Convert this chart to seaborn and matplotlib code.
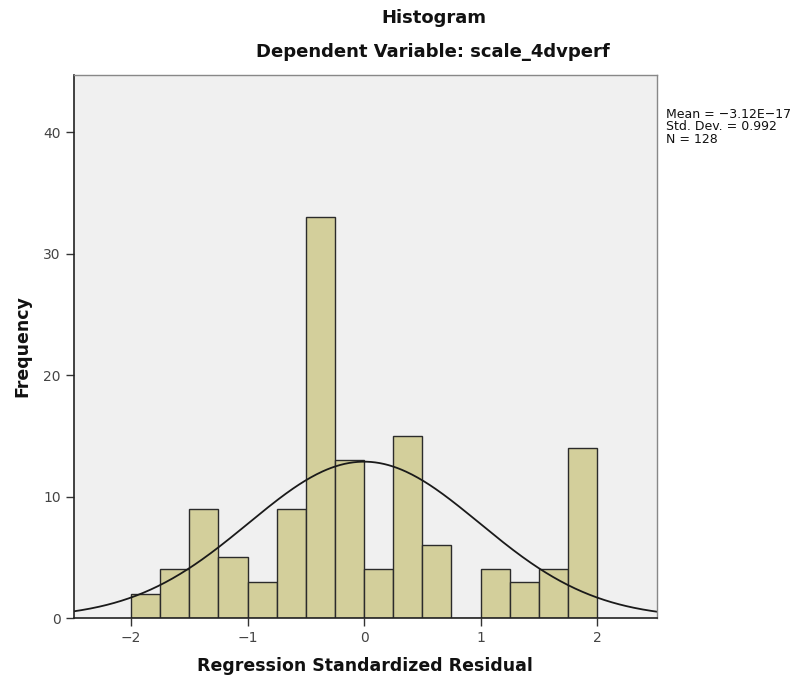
import numpy as np
import pandas as pd
import matplotlib
matplotlib.use("Agg")
import matplotlib.pyplot as plt
import seaborn as sns

# Data
bin_edges = [-2.0, -1.75, -1.5, -1.25, -1.0, -0.75, -0.5, -0.25, 0.0,
             0.25, 0.5, 0.75, 1.0, 1.25, 1.5, 1.75, 2.0]
counts = [2, 4, 9, 5, 3, 9, 33, 13, 4, 15, 6, 0, 4, 3, 4, 14]
mean_val = -3.12e-17
std_val = 0.992
n_val = 128
x_ticks = [-2, -1, 0, 1, 2]
y_ticks = [0, 10, 20, 30, 40]

sns.set_theme(style="white")
plt.rcParams['font.family'] = ['DejaVu Sans']

centers = [(a + b) / 2 for a, b in zip(bin_edges[:-1], bin_edges[1:])]
df = pd.DataFrame({"resid": centers, "count": counts})

fig = plt.figure(figsize=(8.06, 6.81), dpi=100)
ax = fig.add_axes([74/806, 1 - 618/681, (657-74)/806, (618-75)/681])
ax.set_facecolor("#f0f0f0")

sns.histplot(data=df, x="resid", weights="count", bins=bin_edges,
             color="#d3cf9b", alpha=1, edgecolor="#2b2b2b", linewidth=1.0, ax=ax)

bw = bin_edges[1] - bin_edges[0]
xs = np.linspace(-2.5, 2.53, 400)
ys = n_val * bw * np.exp(-0.5 * ((xs - mean_val) / std_val) ** 2) / (std_val * np.sqrt(2 * np.pi))
sns.lineplot(x=xs, y=ys, color="#1a1a1a", linewidth=1.3, ax=ax)

ax.set_xlim(-2.49, 2.515)
ax.set_ylim(0, 44.7)
ax.set_xticks(x_ticks)
ax.set_xticklabels(["\u22122", "\u22121", "0", "1", "2"])
ax.set_yticks(y_ticks)
ax.tick_params(axis="both", direction="out", length=6, width=1, color="#333333",
               labelcolor="#444444", labelsize=10, bottom=True, left=True)
for side in ["left", "bottom"]:
    ax.spines[side].set_color("#222222")
    ax.spines[side].set_linewidth(1.2)
for side in ["top", "right"]:
    ax.spines[side].set_color("#888888")
    ax.spines[side].set_linewidth(1.0)

ax.set_xlabel("")
ax.set_ylabel("")
fig.text(365/806, 1 - 666/681, "Regression Standardized Residual", ha="center", va="center",
         fontsize=12.5, fontweight="bold", color="#111111")
fig.text(22/806, 1 - 346/681, "Frequency", ha="center", va="center", rotation=90,
         fontsize=12.5, fontweight="bold", color="#111111")

fig.text(434/806, 1 - 18/681, "Histogram", ha="center", va="center", fontsize=13,
         fontweight="bold", color="#111111")
fig.text(433/806, 1 - 52/681, "Dependent Variable: scale_4dvperf", ha="center", va="center",
         fontsize=13, fontweight="bold", color="#111111")

fig.text(666/806, 1 - 108/681,
         "Mean = \u22123.12E\u221217\nStd. Dev. = 0.992\nN = 128",
         ha="left", va="top", fontsize=9, linespacing=0.95, color="#111111")

fig.savefig("out.png", dpi=100)
